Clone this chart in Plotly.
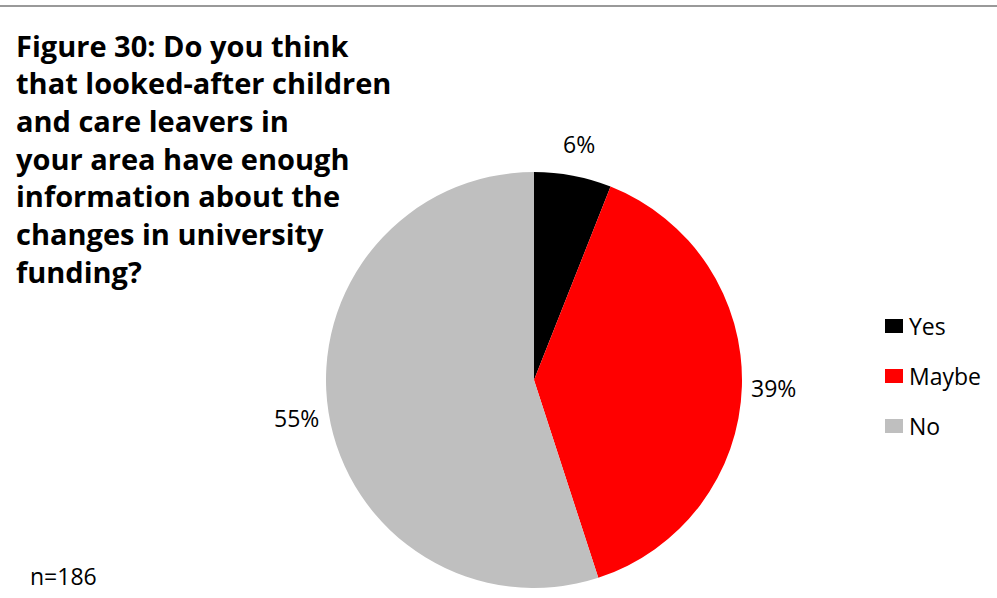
import math
import plotly.graph_objects as go

# Survey responses
categories = ["Yes", "Maybe", "No"]
shares = [6, 39, 55]
colors = ["#000000", "#ff0000", "#bfbfbf"]
title_lines = [
    "Figure 30: Do you think",
    "that looked-after children",
    "and care leavers in",
    "your area have enough",
    "information about the",
    "changes in university",
    "funding?",
]
sample_note = "n=186"

W, H = 997, 598
FONT = "Open Sans"
SMALL = 23

# Pie placement (pixels)
cx, cy, r = 534, 380, 208
label_r = 240

fig = go.Figure(
    go.Pie(
        labels=categories,
        values=shares,
        marker=dict(colors=colors, line=dict(width=0)),
        sort=False,
        direction="clockwise",
        rotation=0,
        textinfo="none",
        hoverinfo="label+percent",
        domain=dict(x=[(cx - r) / W, (cx + r) / W], y=[1 - (cy + r) / H, 1 - (cy - r) / H]),
        showlegend=False,
    )
)

annotations = []
# percentage labels placed around the pie at each slice's mid angle
total = sum(shares)
cum = 0
for v in shares:
    mid = (cum + v / 2) / total * 2 * math.pi
    cum += v
    lx = cx + label_r * math.sin(mid)
    ly = cy - label_r * math.cos(mid)
    annotations.append(dict(
        x=lx / W, y=1 - ly / H, xref="paper", yref="paper",
        text=f"{round(v / total * 100)}%", showarrow=False,
        font=dict(family=FONT, size=SMALL, color="#000"),
        xanchor="center", yanchor="middle",
    ))

# title block, one line per annotation for fixed line pitch
for i, t in enumerate(title_lines):
    annotations.append(dict(
        x=14 / W, y=1 - (45 + i * 37.7) / H, xref="paper", yref="paper",
        text=f"<b>{t}</b>", showarrow=False,
        align="left", xanchor="left", yanchor="middle",
        font=dict(family=FONT, size=29, color="#000"),
    ))

annotations.append(dict(
    x=28 / W, y=1 - 576 / H, xref="paper", yref="paper",
    text=sample_note, showarrow=False, xanchor="left", yanchor="middle",
    font=dict(family=FONT, size=SMALL, color="#000"),
))

# legend
shapes = []
for i, (cat, col) in enumerate(zip(categories, colors)):
    yc = 326 + i * 50
    shapes.append(dict(type="rect", xref="paper", yref="paper",
                       x0=885 / W, x1=903 / W, y0=1 - (yc + 7) / H, y1=1 - (yc - 7) / H,
                       fillcolor=col, line=dict(width=0)))
    annotations.append(dict(
        x=907 / W, y=1 - yc / H, xref="paper", yref="paper",
        text=cat, showarrow=False, xanchor="left", yanchor="middle",
        font=dict(family=FONT, size=SMALL, color="#000"),
    ))

# top rule
shapes.append(dict(type="line", xref="paper", yref="paper", x0=0, x1=1,
                   y0=1 - 6 / H, y1=1 - 6 / H, line=dict(color="#999999", width=2)))

fig.update_layout(
    width=W, height=H,
    margin=dict(l=0, r=0, t=0, b=0),
    paper_bgcolor="white", plot_bgcolor="white",
    annotations=annotations, shapes=shapes,
)

fig.write_html("out.html")
